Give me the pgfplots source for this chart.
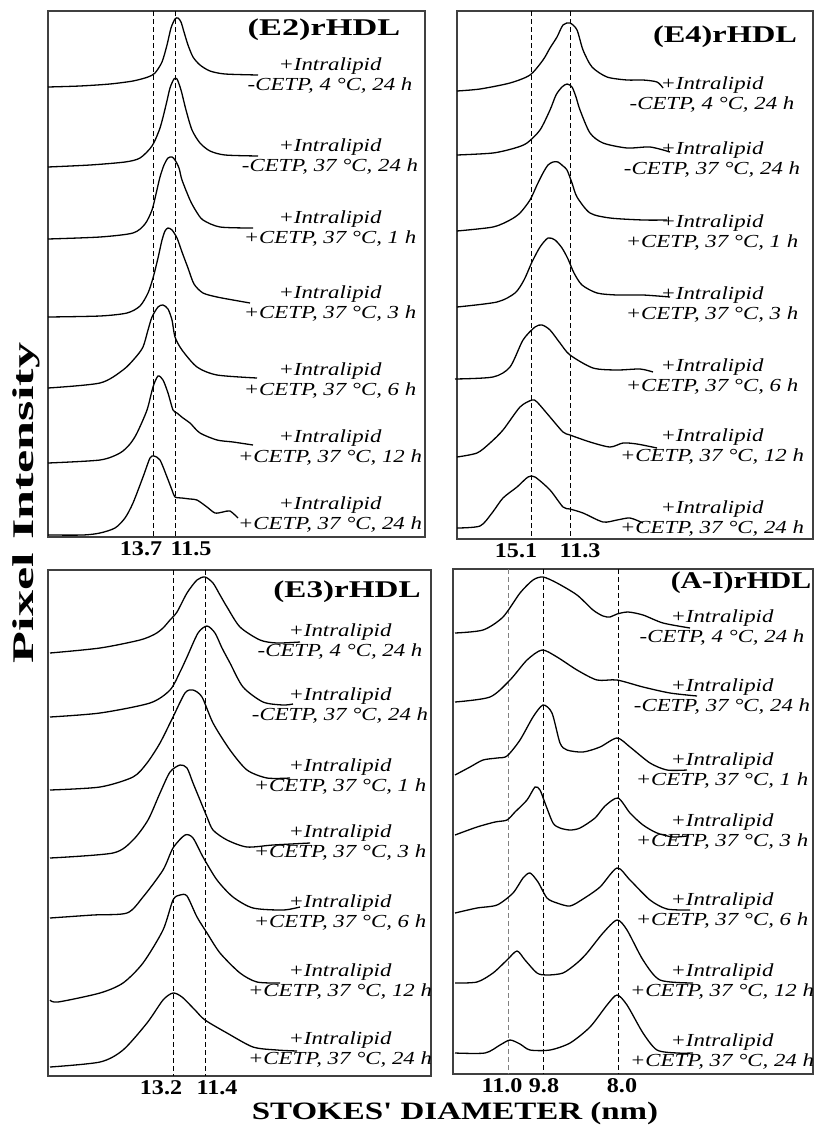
\documentclass[border=0pt]{standalone}
\usepackage{pgfplots}
\pgfplotsset{compat=1.18}
\usepackage{fontspec}
\setmainfont{Liberation Serif}
\usepackage{graphicx}
\newcommand{\sx}[2]{\scalebox{#1}[1]{#2}}
\newcommand{\labfont}{\fontsize{9.2}{10}\selectfont\itshape}
\newcommand{\lbl}[3]{\node[align=center,font=\labfont,inner sep=0pt] at (axis cs:#1,#2) {\sx{1.24}{+Intralipid}\\\sx{1.24}{#3}};}
\newcommand{\ttl}[4]{\node[font=\fontsize{12}{14}\selectfont\bfseries,anchor=base,inner sep=0pt] at (axis cs:#1,#2) {\sx{#3}{#4}};}
\pgfplotsset{panel/.style={scale only axis, anchor=north west,
  axis line style={black!75, line width=0.6pt}, y dir=reverse,
  ytick=\empty, major tick length=0pt, clip=false,
  xticklabel style={font=\fontsize{10.5}{12}\selectfont\bfseries, inner sep=1pt, anchor=north, yshift=-1pt}}}
\tikzset{tr/.style={black, line width=0.65pt, smooth, tension=0.45, mark=none},
  dl/.style={black, line width=0.5pt, dash pattern=on 2.4pt off 1.6pt, mark=none}}
\begin{document}
\begin{tikzpicture}
\useasboundingbox (0,0) rectangle (407pt,-564pt);
% ---------------- (E2)rHDL
\begin{axis}[panel, at={(24pt,-5.5pt)}, width=188.5pt, height=263pt,
  xmin=48, xmax=425, ymin=11, ymax=537,
  xtick={141,191}, xticklabels={\sx{1.15}{13.7},\sx{1.15}{11.5}}]
\addplot[dl] coordinates {(153,11) (153,537)};
\addplot[dl] coordinates {(175,11) (175,537)};
\addplot[tr] coordinates {(48,87) (80,86) (110,84) (133,81) (148,77) (155,73) (162,62) (167,45) (171,28) (175,19) (178,18) (181,22) (184,32) (188,45) (193,57) (200,65) (210,71) (225,74) (258,75)};
\addplot[tr] coordinates {(48,167) (90,165) (125,162) (140,158) (152,146) (160,128) (166,105) (170,88) (174,79) (177,79) (181,90) (186,110) (192,130) (200,143) (210,151) (225,155) (258,156)};
\addplot[tr] coordinates {(48,239) (100,237) (133,233) (145,224) (152,210) (156,194) (160,177) (164,165) (168,158) (172,157) (175,160) (179,168) (182,180) (190,200) (196,211) (203,220) (220,227) (253,228)};
\addplot[tr] coordinates {(48,317) (100,316) (127,313) (140,306) (148,293) (153,278) (158,258) (162,240) (165,231) (168,228) (172,230) (177,238) (182,252) (188,268) (194,284) (203,293) (217,297) (233,300) (250,303)};
\addplot[tr] coordinates {(48,388) (100,383) (123,370) (135,358) (143,347) (148,330) (152,317) (158,307) (163,305) (168,309) (172,320) (175,337) (182,350) (197,367) (217,375) (257,378)};
\addplot[tr] coordinates {(48,463) (100,460) (120,453) (130,444) (137,433) (147,410) (153,387) (158,376) (163,380) (168,393) (173,410) (177,413) (183,418) (190,423) (200,433) (217,440) (233,442) (253,445)};
\addplot[tr] coordinates {(48,535) (83,535) (100,533) (115,528) (125,518) (133,503) (143,477) (150,458) (154,456) (160,460) (167,477) (172,490) (175,497) (182,498) (190,499) (197,500) (207,507) (215,513) (223,512) (230,511) (238,518)};
\ttl{324}{35}{1.43}{(E2)rHDL}
\lbl{330}{76}{-CETP, 4 °C, 24 h}
\lbl{330}{157}{-CETP, 37 °C, 24 h}
\lbl{330}{229}{+CETP, 37 °C, 1 h}
\lbl{330}{304}{+CETP, 37 °C, 3 h}
\lbl{330}{381}{+CETP, 37 °C, 6 h}
\lbl{330}{448}{+CETP, 37 °C, 12 h}
\lbl{330}{515}{+CETP, 37 °C, 24 h}
\end{axis}
% ---------------- (E4)rHDL
\begin{axis}[panel, at={(228.5pt,-5.5pt)}, width=178pt, height=264pt,
  xmin=457, xmax=813, ymin=11, ymax=539,
  xtick={516,580}, xticklabels={\sx{1.15}{15.1},\sx{1.15}{11.3}}]
\addplot[dl] coordinates {(531,11) (531,539)};
\addplot[dl] coordinates {(570,11) (570,539)};
\addplot[tr] coordinates {(457,91) (480,89) (510,83) (530,75) (543,60) (550,48) (557,37) (563,25) (570,23) (577,30) (583,50) (592,67) (607,77) (627,80) (643,80) (657,82) (663,88)};
\addplot[tr] coordinates {(457,155) (493,153) (515,148) (527,143) (540,130) (550,110) (556,95) (562,87) (567,84) (572,87) (576,97) (580,110) (590,133) (603,143) (627,148) (650,147) (670,152)};
\addplot[tr] coordinates {(457,231) (493,227) (510,220) (520,213) (530,200) (537,185) (543,173) (548,165) (553,162) (558,162) (563,166) (567,170) (572,183) (577,197) (590,213) (610,218) (643,220) (667,220)};
\addplot[tr] coordinates {(457,307) (497,302) (515,293) (524,280) (532,262) (540,247) (548,238) (555,240) (562,248) (568,259) (574,273) (582,285) (597,293) (617,295) (643,295) (670,297)};
\addplot[tr] coordinates {(455,379) (493,377) (510,367) (523,340) (535,327) (542,325) (550,330) (560,343) (570,355) (593,368) (617,370) (640,369) (653,372)};
\addplot[tr] coordinates {(457,457) (477,453) (490,443) (503,430) (520,407) (532,400) (537,402) (550,417) (563,432) (570,435) (590,442) (610,447) (623,443) (637,444) (657,448)};
\addplot[tr] coordinates {(457,528) (480,526) (492,513) (503,498) (517,487) (528,477) (535,477) (550,490) (563,507) (570,509) (583,513) (603,522) (617,520) (630,518) (643,523)};
\ttl{725}{42}{1.35}{(E4)rHDL}
\lbl{712}{95}{-CETP, 4 °C, 24 h}
\lbl{712}{160}{-CETP, 37 °C, 24 h}
\lbl{712}{233}{+CETP, 37 °C, 1 h}
\lbl{712}{305}{+CETP, 37 °C, 3 h}
\lbl{712}{377}{+CETP, 37 °C, 6 h}
\lbl{712}{447}{+CETP, 37 °C, 12 h}
\lbl{712}{519}{+CETP, 37 °C, 24 h}
\end{axis}
% ---------------- (E3)rHDL
\begin{axis}[panel, at={(24pt,-285pt)}, width=191.5pt, height=253pt,
  xmin=48, xmax=431, ymin=570, ymax=1076,
  xtick={161,217}, xticklabels={\sx{1.15}{13.2},\sx{1.15}{11.4}}]
\addplot[dl] coordinates {(173,570) (173,1076)};
\addplot[dl, line width=0.4pt] coordinates {(205,570) (205,1076)};
\addplot[tr] coordinates {(50,653) (100,648) (140,640) (155,634) (163,628) (170,620) (177,612) (187,593) (197,580) (205,577) (213,583) (220,595) (227,607) (240,627) (260,640) (277,643) (300,642)};
\addplot[tr] coordinates {(50,717) (100,713) (150,703) (170,690) (180,672) (187,657) (198,633) (207,626) (215,633) (222,648) (230,663) (243,687) (263,702) (283,705) (293,704)};
\addplot[tr] coordinates {(50,790) (100,787) (133,777) (147,763) (160,743) (173,717) (185,693) (193,690) (202,697) (213,723) (230,750) (247,770) (267,778) (290,778)};
\addplot[tr] coordinates {(50,858) (113,853) (133,840) (148,820) (160,793) (170,772) (180,765) (187,768) (193,783) (200,800) (207,817) (213,830) (227,840) (247,847) (273,845) (310,843)};
\addplot[tr] coordinates {(50,918) (93,915) (127,913) (143,897) (163,870) (173,848) (185,835) (193,838) (203,857) (217,880) (233,897) (253,908) (283,910) (300,907)};
\addplot[tr] coordinates {(50,1000) (58,1002) (100,993) (123,983) (143,963) (163,930) (173,900) (180,895) (187,896) (197,917) (207,933) (220,953) (240,973) (257,982) (280,983)};
\addplot[tr] coordinates {(50,1067) (100,1062) (123,1050) (147,1023) (163,1000) (173,993) (182,997) (195,1010) (205,1020) (227,1033) (253,1047) (277,1050) (297,1051)};
\ttl{347}{597}{1.38}{(E3)rHDL}
\lbl{340}{642}{-CETP, 4 °C, 24 h}
\lbl{340}{706}{-CETP, 37 °C, 24 h}
\lbl{340}{777}{+CETP, 37 °C, 1 h}
\lbl{340}{843}{+CETP, 37 °C, 3 h}
\lbl{340}{913}{+CETP, 37 °C, 6 h}
\lbl{340}{982}{+CETP, 37 °C, 12 h}
\lbl{340}{1050}{+CETP, 37 °C, 24 h}
\end{axis}
% ---------------- (A-I)rHDL
\begin{axis}[panel, at={(226.5pt,-284.5pt)}, width=180pt, height=252.5pt,
  xmin=453, xmax=813, ymin=569, ymax=1074,
  xtick={502,544,622}, xticklabels={\sx{1.15}{11.0},\sx{1.15}{9.8},\sx{1.15}{8.0}}]
\addplot[dl, gray] coordinates {(508,569) (508,1074)};
\addplot[dl] coordinates {(543,569) (543,1074)};
\addplot[dl] coordinates {(618,569) (618,1074)};
\addplot[tr] coordinates {(455,633) (483,630) (503,617) (520,593) (533,580) (543,577) (557,583) (577,595) (593,610) (603,616) (610,617) (617,614) (628,612) (643,615) (663,623) (690,628)};
\addplot[tr] coordinates {(455,702) (490,697) (510,680) (527,660) (542,650) (557,657) (577,670) (597,680) (617,680) (643,687) (670,693) (697,696)};
\addplot[tr] coordinates {(455,775) (470,767) (483,760) (497,758) (507,756) (520,740) (533,717) (543,705) (552,713) (560,743) (567,750) (583,752) (600,747) (617,738) (630,747) (650,763) (667,770) (687,770)};
\addplot[tr] coordinates {(455,835) (477,827) (495,822) (507,820) (515,812) (527,800) (535,787) (540,790) (545,803) (553,823) (560,828) (570,830) (580,828) (595,818) (605,806) (618,798) (630,813) (643,825) (657,833) (673,837) (687,836)};
\addplot[tr] coordinates {(455,913) (477,908) (497,905) (513,893) (523,878) (530,873) (538,882) (547,898) (557,903) (570,906) (583,899) (600,887) (617,868) (630,880) (650,900) (667,909) (690,910)};
\addplot[tr] coordinates {(455,983) (477,982) (493,973) (507,960) (517,951) (525,960) (537,973) (547,975) (563,973) (577,963) (587,953) (603,933) (617,920) (627,930) (643,960) (660,980) (693,983)};
\addplot[tr] coordinates {(455,1053) (485,1053) (500,1045) (510,1040) (520,1044) (530,1050) (550,1050) (570,1043) (590,1027) (607,1005) (617,995) (627,1005) (643,1033) (657,1050) (677,1053) (693,1053)};
\ttl{741}{588}{1.24}{(A-I)rHDL}
\lbl{722}{628}{-CETP, 4 °C, 24 h}
\lbl{722}{697}{-CETP, 37 °C, 24 h}
\lbl{722}{771}{+CETP, 37 °C, 1 h}
\lbl{722}{832}{+CETP, 37 °C, 3 h}
\lbl{722}{911}{+CETP, 37 °C, 6 h}
\lbl{722}{982}{+CETP, 37 °C, 12 h}
\lbl{722}{1052}{+CETP, 37 °C, 24 h}
\end{axis}
% ---------------- shared axis titles
\node[rotate=90, anchor=base, inner sep=0pt, font=\fontsize{15}{18}\selectfont\bfseries] at (16.5pt,-251.5pt) {\sx{1.74}{Pixel Intensity}};
\node[anchor=base, inner sep=0pt, font=\fontsize{12.5}{15}\selectfont\bfseries] at (227.5pt,-559.5pt) {\sx{1.32}{STOKES\textquotesingle\ DIAMETER (nm)}};
\end{tikzpicture}
\end{document}
